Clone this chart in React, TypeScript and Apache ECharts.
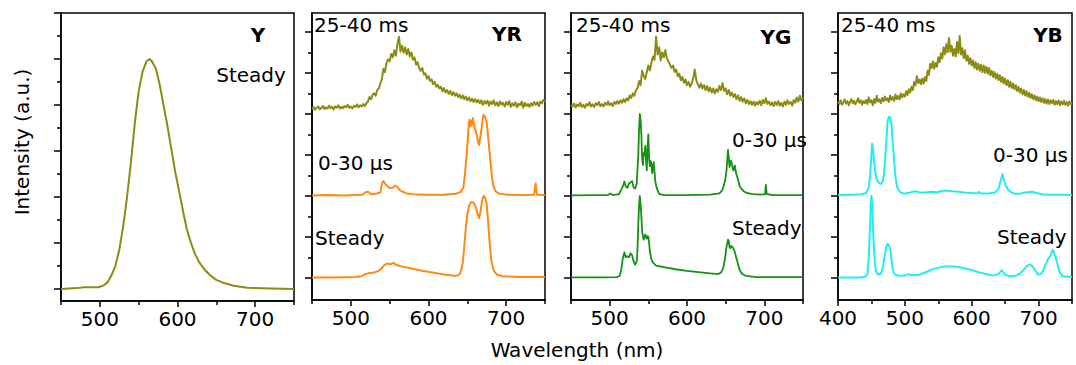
import React, { useEffect, useRef } from "react";
import * as echarts from "echarts";

type Pt = [number, number];

const FONT = "DejaVu Sans";
const OLIVE = "#8c8c14";
const ORANGE = "#ff8a14";
const GREEN = "#159215";
const CYAN = "#22eeee";

// vertical stacking offsets of the three traces (major-tick units)
const OFFSET_STEADY = 0;
const OFFSET_US = 2;
const OFFSET_MS = 4;

// axis ticks
const X_MAJOR_A = [500, 600, 700];
const X_MINOR_A = [450, 550, 650, 750];
const X_MAJOR_B = [400, 500, 600, 700];
const X_MINOR_B = [450, 550, 650, 750];
const Y_MAJOR = [0, 1, 2, 3, 4, 5, 6];
const Y_MINOR = [0.5, 1.5, 2.5, 3.5, 4.5, 5.5];

// ---- Panel Y : steady spectrum ----
const Y_STEADY: Pt[] = [
  [450, 0.0], [470, 0.02], [480, 0.04], [490, 0.04], [498, 0.04], [505, 0.08], [510, 0.15], [515, 0.3],
  [520, 0.5], [525, 0.85], [530, 1.35], [535, 2.0], [540, 2.75], [545, 3.6], [550, 4.3], [555, 4.72],
  [560, 4.95], [564, 5.0], [567, 4.95], [572, 4.8], [577, 4.45], [582, 4.0], [587, 3.55], [592, 3.05],
  [597, 2.55], [603, 2.05], [608, 1.62], [612, 1.3], [617, 1.02], [622, 0.78], [628, 0.58], [635, 0.42],
  [642, 0.3], [650, 0.2], [660, 0.13], [672, 0.07], [690, 0.03], [720, 0.01], [750, 0.0],
];

// ---- 25-40 ms traces, sampled every 2 nm ----
const MS_STEP = 2;
const YR_MS_START = 450;
const YR_MS = [
  0.12, 0.16, 0.10, 0.15, 0.18, 0.11, 0.14, 0.19, 0.12, 0.16,
  0.13, 0.20, 0.14, 0.17, 0.11, 0.18, 0.15, 0.21, 0.13, 0.17,
  0.14, 0.19, 0.16, 0.22, 0.15, 0.18, 0.13, 0.20, 0.17, 0.23,
  0.16, 0.21, 0.18, 0.24, 0.19, 0.26, 0.30, 0.41, 0.36, 0.47,
  0.50, 0.44, 0.58, 0.62, 0.74, 0.85, 1.10, 1.02, 1.25, 1.33,
  1.28, 1.46, 1.38, 1.55, 1.42, 1.70, 1.88, 1.52, 1.66, 1.49,
  1.62, 1.45, 1.58, 1.40, 1.50, 1.32, 1.38, 1.20, 1.26, 1.12,
  1.05, 1.12, 0.96, 0.99, 0.86, 0.92, 0.80, 0.84, 0.72, 0.78,
  0.66, 0.71, 0.62, 0.66, 0.55, 0.63, 0.52, 0.58, 0.49, 0.56,
  0.46, 0.53, 0.44, 0.50, 0.41, 0.47, 0.38, 0.45, 0.36, 0.42,
  0.33, 0.40, 0.31, 0.37, 0.29, 0.36, 0.28, 0.34, 0.26, 0.33,
  0.22, 0.31, 0.25, 0.32, 0.20, 0.30, 0.24, 0.33, 0.21, 0.28,
  0.19, 0.30, 0.23, 0.27, 0.18, 0.29, 0.22, 0.31, 0.17, 0.26,
  0.20, 0.28, 0.16, 0.25, 0.21, 0.30, 0.15, 0.27, 0.19, 0.24,
  0.17, 0.26, 0.20, 0.29, 0.22, 0.28, 0.19, 0.30, 0.26, 0.34,
  0.30,
];
const YG_MS_START = 450;
const YG_MS = [
  0.22, 0.18, 0.25, 0.16, 0.23, 0.19, 0.27, 0.17, 0.22, 0.15,
  0.24, 0.20, 0.28, 0.18, 0.23, 0.17, 0.26, 0.21, 0.29, 0.19,
  0.24, 0.18, 0.27, 0.22, 0.30, 0.21, 0.26, 0.19, 0.29, 0.24,
  0.31, 0.25, 0.33, 0.27, 0.36, 0.29, 0.38, 0.33, 0.45, 0.39,
  0.50, 0.44, 0.58, 0.62, 0.80, 0.70, 1.05, 0.92, 0.85, 1.02,
  1.18, 1.06, 1.25, 1.40, 1.32, 1.88, 1.45, 1.62, 1.30, 1.50,
  1.38, 1.55, 1.35, 1.28, 1.20, 1.12, 1.18, 1.02, 1.08, 0.92,
  0.98, 0.82, 0.90, 0.76, 0.84, 0.70, 0.78, 0.66, 0.74, 0.86,
  1.08, 0.82, 0.72, 0.64, 0.74, 0.62, 0.70, 0.58, 0.68, 0.55,
  0.64, 0.52, 0.62, 0.50, 0.60, 0.54, 0.68, 0.58, 0.75, 0.56,
  0.62, 0.48, 0.58, 0.44, 0.52, 0.41, 0.48, 0.36, 0.45, 0.32,
  0.41, 0.30, 0.38, 0.26, 0.34, 0.24, 0.31, 0.22, 0.30, 0.20,
  0.29, 0.23, 0.32, 0.21, 0.34, 0.26, 0.38, 0.24, 0.30, 0.21,
  0.28, 0.19, 0.29, 0.22, 0.31, 0.20, 0.27, 0.18, 0.30, 0.22,
  0.33, 0.24, 0.29, 0.20, 0.34, 0.27, 0.40, 0.30, 0.44, 0.33,
  0.40,
];
const YB_MS_START = 400;
const YB_MS = [
  0.30, 0.24, 0.33, 0.22, 0.28, 0.35, 0.25, 0.31, 0.21, 0.29,
  0.36, 0.26, 0.32, 0.23, 0.30, 0.38, 0.27, 0.33, 0.22, 0.31,
  0.26, 0.34, 0.24, 0.40, 0.28, 0.33, 0.21, 0.36, 0.27, 0.44,
  0.30, 0.35, 0.26, 0.39, 0.31, 0.42, 0.33, 0.38, 0.29, 0.45,
  0.34, 0.41, 0.32, 0.47, 0.36, 0.44, 0.35, 0.50, 0.40, 0.48,
  0.42, 0.55, 0.46, 0.60, 0.52, 0.66, 0.58, 0.78, 0.70, 0.92,
  0.75, 0.84, 0.72, 0.86, 0.74, 0.90, 0.80, 1.05, 0.95, 1.22,
  1.12, 1.28, 1.10, 1.24, 1.15, 1.38, 1.26, 1.48, 1.35, 1.62,
  1.45, 1.70, 1.50, 1.85, 1.52, 1.66, 1.42, 1.58, 1.40, 1.75,
  1.48, 1.90, 1.45, 1.60, 1.36, 1.55, 1.30, 1.42, 1.22, 1.36,
  1.18, 1.30, 1.12, 1.26, 1.08, 1.22, 1.05, 1.20, 1.02, 1.18,
  1.00, 1.15, 0.98, 1.12, 0.94, 1.05, 0.90, 1.02, 0.86, 0.98,
  0.82, 0.94, 0.78, 0.90, 0.74, 0.86, 0.70, 0.82, 0.66, 0.78,
  0.63, 0.74, 0.60, 0.70, 0.56, 0.66, 0.52, 0.62, 0.48, 0.58,
  0.45, 0.55, 0.42, 0.51, 0.39, 0.48, 0.36, 0.45, 0.33, 0.42,
  0.31, 0.40, 0.29, 0.38, 0.27, 0.36, 0.25, 0.35, 0.24, 0.33,
  0.26, 0.34, 0.22, 0.31, 0.24, 0.33, 0.21, 0.30, 0.23, 0.32,
  0.22, 0.29, 0.20, 0.30, 0.24, 0.28,
];

// ---- 0-30 us traces ----
const YR_US: Pt[] = [
  [450, 0.01], [470, 0.02], [490, 0.01], [505, 0.02], [515, 0.03], [519, 0.09], [522, 0.1], [526, 0.04],
  [532, 0.05], [538, 0.08], [540, 0.3], [542, 0.36], [545, 0.27], [548, 0.22], [551, 0.19], [554, 0.2],
  [557, 0.25], [560, 0.22], [563, 0.14], [567, 0.1], [572, 0.06], [580, 0.04], [600, 0.03], [620, 0.03],
  [635, 0.05], [641, 0.09], [645, 0.2], [647, 0.55], [649, 0.95], [651, 1.5], [652, 1.78], [653, 1.86],
  [654, 1.7], [655, 1.82], [656, 1.74], [657, 1.9], [658, 1.8], [659, 1.72], [660, 1.62], [662, 1.5],
  [664, 1.3], [665, 1.24], [666, 1.35], [668, 1.6], [670, 1.9], [671, 1.98], [673, 1.92], [675, 1.78],
  [677, 1.4], [679, 1.0], [681, 0.6], [683, 0.28], [686, 0.12], [690, 0.06], [700, 0.03], [720, 0.02],
  [736, 0.03], [737, 0.2], [738, 0.3], [739, 0.1], [740, 0.03], [750, 0.02],
];
const YG_US: Pt[] = [
  [450, 0.01], [480, 0.02], [498, 0.02], [501, 0.06], [504, 0.02], [512, 0.04], [515, 0.15], [517, 0.23],
  [519, 0.35], [521, 0.22], [523, 0.2], [525, 0.3], [527, 0.33], [529, 0.36], [531, 0.2], [533, 0.18],
  [535, 0.3], [537, 1.0], [538, 1.6], [539, 2.0], [540, 1.85], [541, 1.5], [542, 0.9], [543, 0.75],
  [544, 1.05], [545, 1.0], [546, 1.22], [547, 0.85], [548, 0.62], [549, 1.2], [550, 1.5], [551, 0.9],
  [552, 0.72], [553, 0.85], [554, 0.78], [555, 0.55], [556, 0.68], [557, 0.82], [558, 0.6], [559, 0.35],
  [561, 0.18], [564, 0.05], [570, 0.02], [600, 0.02], [630, 0.03], [642, 0.06], [646, 0.15], [649, 0.35],
  [651, 0.6], [652, 0.85], [653, 1.12], [654, 0.95], [655, 0.7], [656, 0.8], [657, 0.86], [658, 0.78],
  [659, 0.68], [660, 0.62], [661, 0.7], [662, 0.74], [663, 0.6], [664, 0.52], [666, 0.4], [668, 0.24],
  [670, 0.18], [673, 0.12], [677, 0.07], [685, 0.04], [695, 0.03], [701, 0.04], [702, 0.27], [703, 0.05],
  [710, 0.02], [750, 0.02],
];
const YB_US: Pt[] = [
  [400, 0.02], [420, 0.03], [435, 0.04], [442, 0.07], [446, 0.2], [448, 0.5], [450, 1.0], [451, 1.27],
  [452, 1.2], [454, 0.85], [456, 0.55], [458, 0.4], [461, 0.32], [464, 0.29], [467, 0.36], [469, 0.55],
  [471, 1.0], [473, 1.5], [474, 1.8], [476, 1.93], [478, 1.92], [480, 1.75], [482, 1.3], [484, 0.85],
  [486, 0.45], [488, 0.25], [491, 0.12], [495, 0.07], [500, 0.06], [508, 0.08], [515, 0.11], [522, 0.09],
  [530, 0.08], [540, 0.1], [548, 0.09], [555, 0.12], [562, 0.13], [570, 0.11], [580, 0.1], [590, 0.08],
  [600, 0.07], [608, 0.06], [611, 0.1], [613, 0.06], [625, 0.06], [635, 0.08], [640, 0.17], [643, 0.35],
  [646, 0.53], [648, 0.4], [651, 0.25], [655, 0.14], [660, 0.08], [665, 0.05], [672, 0.05], [680, 0.08],
  [690, 0.1], [697, 0.07], [705, 0.04], [720, 0.03], [735, 0.03], [750, 0.02],
];

// ---- steady traces ----
const YR_STEADY: Pt[] = [
  [450, 0.01], [480, 0.01], [505, 0.02], [514, 0.04], [518, 0.09], [522, 0.11], [530, 0.13], [536, 0.17],
  [540, 0.24], [543, 0.31], [547, 0.35], [551, 0.33], [555, 0.37], [558, 0.32], [565, 0.28], [575, 0.24],
  [590, 0.18], [605, 0.13], [620, 0.08], [632, 0.05], [638, 0.06], [641, 0.12], [644, 0.35], [646, 0.75],
  [648, 1.2], [650, 1.55], [652, 1.75], [655, 1.85], [658, 1.84], [661, 1.72], [663, 1.58], [665, 1.46],
  [667, 1.62], [669, 1.88], [671, 2.0], [673, 1.95], [675, 1.8], [677, 1.3], [679, 0.8], [681, 0.4],
  [684, 0.18], [688, 0.08], [695, 0.04], [720, 0.02], [750, 0.02],
];
const YG_STEADY: Pt[] = [
  [450, 0.01], [490, 0.01], [510, 0.02], [513, 0.05], [515, 0.2], [517, 0.48], [519, 0.62], [521, 0.5],
  [523, 0.53], [525, 0.5], [527, 0.6], [529, 0.55], [531, 0.4], [533, 0.32], [535, 0.4], [536, 0.7],
  [537, 1.3], [538, 1.75], [539, 2.0], [540, 1.8], [541, 1.5], [542, 1.15], [543, 1.0], [544, 0.93],
  [545, 1.0], [546, 1.06], [547, 0.98], [548, 0.96], [549, 1.02], [550, 1.0], [551, 0.85], [552, 0.65],
  [554, 0.45], [556, 0.37], [560, 0.3], [570, 0.26], [585, 0.21], [600, 0.17], [615, 0.14], [630, 0.11],
  [640, 0.09], [644, 0.13], [647, 0.25], [649, 0.45], [651, 0.75], [653, 0.93], [654, 0.9], [655, 0.75],
  [656, 0.72], [657, 0.78], [658, 0.76], [660, 0.72], [662, 0.62], [664, 0.47], [666, 0.33], [668, 0.2],
  [671, 0.1], [676, 0.05], [690, 0.02], [750, 0.02],
];
const YB_STEADY: Pt[] = [
  [400, 0.01], [430, 0.01], [440, 0.02], [444, 0.08], [446, 0.5], [448, 1.3], [449, 1.8], [450, 2.0],
  [451, 1.85], [452, 1.4], [453, 0.95], [455, 0.4], [457, 0.15], [460, 0.08], [464, 0.1], [467, 0.25],
  [470, 0.55], [472, 0.75], [474, 0.83], [476, 0.8], [478, 0.72], [480, 0.45], [482, 0.2], [485, 0.08],
  [490, 0.05], [500, 0.06], [505, 0.09], [510, 0.07], [520, 0.07], [530, 0.13], [540, 0.2], [550, 0.25],
  [560, 0.28], [570, 0.28], [580, 0.27], [590, 0.23], [600, 0.19], [610, 0.14], [620, 0.1], [632, 0.06],
  [640, 0.09], [645, 0.19], [649, 0.09], [655, 0.04], [665, 0.05], [672, 0.1], [678, 0.2], [683, 0.3],
  [687, 0.33], [691, 0.28], [695, 0.18], [699, 0.08], [703, 0.09], [707, 0.18], [711, 0.35], [714, 0.45],
  [717, 0.52], [719, 0.6], [721, 0.69], [723, 0.62], [726, 0.48], [729, 0.28], [732, 0.12], [736, 0.04],
  [750, 0.02],
];

const uniform = (start: number, step: number, vals: number[], off: number): Pt[] =>
  vals.map((v, i) => [start + i * step, v + off]);
const shift = (pts: Pt[], off: number): Pt[] => pts.map(([x, y]) => [x, y + off]);

type Trace = { data: Pt[]; color: string; width: number };
type Panel = {
  left: number; top: number; width: number; height: number;
  xMin: number; xMax: number; yMin: number; yMax: number;
  xMajor: number[]; xMinor: number[]; yMajor: number[]; yMinor: number[];
  traces: Trace[];
};

export default function App() {
  const ref = useRef<HTMLDivElement>(null);

  useEffect(() => {
    if (!ref.current) return;
    const chart = echarts.init(ref.current, undefined, { renderer: "svg" });

    const panels: Panel[] = [
      {
        left: 61, top: 13, width: 233, height: 288, xMin: 450, xMax: 750, yMin: -0.26, yMax: 6,
        xMajor: X_MAJOR_A, xMinor: X_MINOR_A, yMajor: Y_MAJOR, yMinor: Y_MINOR,
        traces: [{ data: Y_STEADY, color: OLIVE, width: 2 }],
      },
      {
        left: 312, top: 13, width: 233, height: 287, xMin: 450, xMax: 750, yMin: -0.54, yMax: 6.46,
        xMajor: X_MAJOR_A, xMinor: X_MINOR_A, yMajor: Y_MAJOR, yMinor: Y_MINOR,
        traces: [
          { data: uniform(YR_MS_START, MS_STEP, YR_MS, OFFSET_MS), color: OLIVE, width: 2 },
          { data: shift(YR_US, OFFSET_US), color: ORANGE, width: 2 },
          { data: shift(YR_STEADY, OFFSET_STEADY), color: ORANGE, width: 2 },
        ],
      },
      {
        left: 571, top: 13, width: 232, height: 287, xMin: 450, xMax: 750, yMin: -0.54, yMax: 6.46,
        xMajor: X_MAJOR_A, xMinor: X_MINOR_A, yMajor: Y_MAJOR, yMinor: Y_MINOR,
        traces: [
          { data: uniform(YG_MS_START, MS_STEP, YG_MS, OFFSET_MS), color: OLIVE, width: 2 },
          { data: shift(YG_US, OFFSET_US), color: GREEN, width: 1.8 },
          { data: shift(YG_STEADY, OFFSET_STEADY), color: GREEN, width: 1.8 },
        ],
      },
      {
        left: 838, top: 13, width: 234, height: 287, xMin: 400, xMax: 750, yMin: -0.54, yMax: 6.46,
        xMajor: X_MAJOR_B, xMinor: X_MINOR_B, yMajor: Y_MAJOR, yMinor: Y_MINOR,
        traces: [
          { data: uniform(YB_MS_START, MS_STEP, YB_MS, OFFSET_MS), color: OLIVE, width: 2 },
          { data: shift(YB_US, OFFSET_US), color: CYAN, width: 2 },
          { data: shift(YB_STEADY, OFFSET_STEADY), color: CYAN, width: 2 },
        ],
      },
    ];

    const black = { color: "#000", width: 1.5 };
    const grid: any[] = [];
    const xAxis: any[] = [];
    const yAxis: any[] = [];
    const series: any[] = [];

    panels.forEach((p, i) => {
      grid.push({
        left: p.left, top: p.top, width: p.width, height: p.height,
        show: true, borderColor: "#000", borderWidth: 1.5, backgroundColor: "transparent",
        containLabel: false, outerBoundsMode: "none",
      });
      xAxis.push({
        type: "value", gridIndex: i, min: p.xMin, max: p.xMax, position: "bottom",
        axisLine: { show: true, onZero: false, lineStyle: black },
        axisTick: { show: true, length: 6, customValues: p.xMajor, lineStyle: black },
        axisLabel: { show: true, customValues: p.xMajor, fontSize: 20, fontFamily: FONT, color: "#000", margin: 8 },
        splitLine: { show: false },
      });
      xAxis.push({
        type: "value", gridIndex: i, min: p.xMin, max: p.xMax, position: "bottom",
        axisLine: { show: false, onZero: false },
        axisTick: { show: true, length: 4, customValues: p.xMinor, lineStyle: black },
        axisLabel: { show: false },
        splitLine: { show: false },
      });
      yAxis.push({
        type: "value", gridIndex: i, min: p.yMin, max: p.yMax, position: "left",
        axisLine: { show: true, onZero: false, lineStyle: black },
        axisTick: { show: true, length: 7, customValues: p.yMajor, lineStyle: black },
        axisLabel: { show: false },
        splitLine: { show: false },
      });
      yAxis.push({
        type: "value", gridIndex: i, min: p.yMin, max: p.yMax, position: "left",
        axisLine: { show: false, onZero: false },
        axisTick: { show: true, length: 4, customValues: p.yMinor, lineStyle: black },
        axisLabel: { show: false },
        splitLine: { show: false },
      });
      p.traces.forEach((t) => {
        series.push({
          type: "line", xAxisIndex: 2 * i, yAxisIndex: 2 * i, data: t.data,
          showSymbol: false, symbol: "none", silent: true,
          lineStyle: { color: t.color, width: t.width, join: "round" },
        });
      });
    });

    const txt = (text: string, x: number, y: number, align: string, bold = false, size = 20) => ({
      type: "text", x, y, z: 100,
      style: {
        text, fill: "#000", fontSize: size, fontFamily: FONT, fontWeight: bold ? "bold" : "normal",
        textAlign: align, textVerticalAlign: "middle",
      },
    });

    const graphic: any[] = [
      {
        type: "text", x: 22, y: 142, rotation: Math.PI / 2, z: 100,
        style: { text: "Intensity (a.u.)", fill: "#000", fontSize: 20, fontFamily: FONT, textAlign: "center", textVerticalAlign: "middle" },
      },
      txt("Wavelength (nm)", 577, 350, "center"),
      txt("Y", 258, 35, "center", true),
      txt("Steady", 251, 75, "center"),
      txt("25-40 ms", 314, 25, "left"),
      txt("YR", 507, 34, "center", true),
      txt("0-30 μs", 318, 163, "left"),
      txt("Steady", 315, 238, "left"),
      txt("25-40 ms", 576, 25, "left"),
      txt("YG", 776, 37, "center", true),
      txt("0-30 μs", 732, 140, "left"),
      txt("Steady", 732, 228, "left"),
      txt("25-40 ms", 841, 25, "left"),
      txt("YB", 1048, 35, "center", true),
      txt("0-30 μs", 993, 155, "left"),
      txt("Steady", 997, 237, "left"),
    ];

    chart.setOption({
      animation: false,
      backgroundColor: "#fff",
      grid, xAxis, yAxis, series, graphic,
    });

    return () => chart.dispose();
  }, []);

  return (
    <div
      ref={ref}
      style={{ position: "fixed", left: 0, top: 0, width: 1076, height: 365, background: "#fff" }}
    />
  );
}
